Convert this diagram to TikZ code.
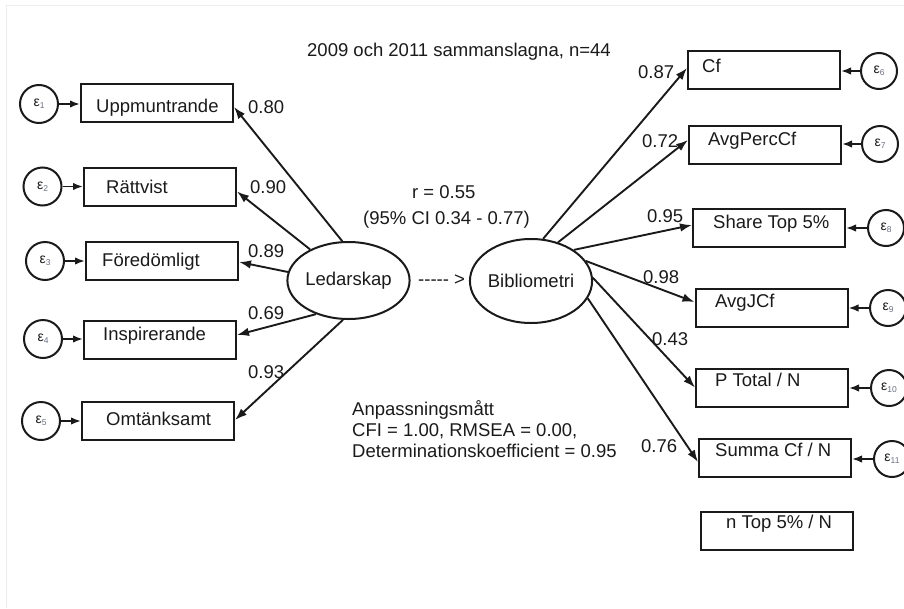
\documentclass[tikz,border=0pt]{standalone}
\usepackage{fontspec}
\setmainfont{Liberation Sans}
\usetikzlibrary{arrows.meta,shapes.geometric}
\definecolor{ink}{HTML}{1A1A1A}
\definecolor{subgray}{HTML}{6A6E80}
\definecolor{framegray}{HTML}{ECECEC}
% error-term label: epsilon with a small grey index
\newcommand\errlab[1]{{\fontsize{14}{14}\selectfont ε}{\fontsize{8.5}{8.5}\selectfont\color{subgray}\raisebox{-2pt}{#1}}}
\begin{document}
\begin{tikzpicture}[x=1pt,y=-1pt,
  every node/.style={text=ink},
  txt/.style={anchor=base west,inner sep=0pt,font=\fontsize{18.5}{21}\selectfont},
  obs/.style={draw=ink,line width=2pt,minimum width=152pt,minimum height=38pt,inner sep=0pt},
  lat/.style={ellipse,draw=ink,line width=2pt,inner sep=0pt,font=\fontsize{18.5}{21}\selectfont},
  errl/.style={circle,draw=ink,line width=2pt,inner sep=0pt,minimum size=38pt},
  errr/.style={circle,draw=ink,line width=2pt,inner sep=0pt,minimum size=36pt},
  load/.style={draw=ink,line width=1.9pt,-{Latex[length=12pt,width=8.5pt]}},
  erra/.style={draw=ink,line width=1.9pt,-{Latex[length=10pt,width=7.5pt]}}
]
\useasboundingbox (0,0) rectangle (904,608);
\draw[framegray,line width=1pt] (6,608) -- (6,5) -- (904,5);

% latent variables
\node[lat,minimum width=115pt,minimum height=77pt] (led) at (348.5,280.5) {Ledarskap};
\node[lat,minimum width=113pt,minimum height=84pt] (bib) at (531,281) {Bibliometri};

% indicators, left
\node[obs] (upp)  at (157,102.5) {};
\node[obs] (rat)  at (160,186.5) {};
\node[obs] (fore) at (162,260.5) {};
\node[obs] (insp) at (160,339.5) {};
\node[obs] (omt)  at (158,421) {};
\node[txt] (uppt)  at (96,112)  {Uppmuntrande};
\node[txt] (ratt)  at (106,193) {Rättvist};
\node[txt] (foret) at (102,266) {Föredömligt};
\node[txt] (inspt) at (103,340) {Inspirerande};
\node[txt] (omtt)  at (106,425) {Omtänksamt};

% indicators, right
\node[obs] (cf)    at (764,70) {};
\node[obs] (apc)   at (765,145) {};
\node[obs] (share) at (769,227.5) {};
\node[obs] (ajcf)  at (771.5,307.5) {};
\node[obs] (ptot)  at (772,387.5) {};
\node[obs] (summa) at (775,458) {};
\node[obs] (ntop)  at (777,531) {};
\node[txt] (cft)    at (702,72)  {Cf};
\node[txt] (apct)   at (708,145) {AvgPercCf};
\node[txt] (sharet) at (713,228) {Share Top 5\%};
\node[txt] (ajcft)  at (715,307) {AvgJCf};
\node[txt] (ptott)  at (715,386) {P Total / N};
\node[txt] (summat) at (715,456) {Summa Cf / N};
\node[txt] (ntopt)  at (726,528) {n Top 5\% / N};

% error terms
\node[errl] (e1) at (39,104)    {\errlab{1}};
\node[errl] (e2) at (42.5,186.5){\errlab{2}};
\node[errl] (e3) at (45,261)    {\errlab{3}};
\node[errl] (e4) at (43,339)    {\errlab{4}};
\node[errl] (e5) at (41,421)    {\errlab{5}};
\node[errr] (e6)  at (879,71)  {\errlab{6}};
\node[errr] (e7)  at (880,144) {\errlab{7}};
\node[errr] (e8)  at (886,228) {\errlab{8}};
\node[errr] (e9)  at (888,308) {\errlab{9}};
\node[errr] (e10) at (889,388) {\errlab{10}};
\node[errr] (e11) at (892,459) {\errlab{11}};

\draw[erra] (e1.east) -- (e1.east -| upp.west);
\draw[erra] (e2.east) -- (e2.east -| rat.west);
\draw[erra] (e3.east) -- (e3.east -| fore.west);
\draw[erra] (e4.east) -- (e4.east -| insp.west);
\draw[erra] (e5.east) -- (e5.east -| omt.west);
\draw[erra] (e6.west) -- (e6.west -| cf.east);
\draw[erra] (e7.west) -- (e7.west -| apc.east);
\draw[erra] (e8.west) -- (e8.west -| share.east);
\draw[erra] (e9.west) -- (e9.west -| ajcf.east);
\draw[erra] (e10.west) -- (e10.west -| ptot.east);
\draw[erra] (e11.west) -- (e11.west -| summa.east);

% loadings
\draw[load] (led.99)    -- ([yshift=-4.5pt]upp.east);
\draw[load] (led.141.7) -- ([yshift=-5pt]rat.east);
\draw[load] (led.172)   -- ([yshift=-1.5pt]fore.east);
\draw[load] (led.226)   -- ([yshift=4.5pt]insp.east);
\draw[load] (led.262.5) -- ([yshift=1pt]omt.east);
\draw[load] (bib.74)    -- ([yshift=2pt]cf.west);
\draw[load] (bib.55.6)  -- ([yshift=5pt]apc.west);
\draw[load] (bib.36)    -- ([yshift=2.5pt]share.west);
\draw[load] (bib.20)    -- ([yshift=5.5pt]ajcf.west);
\draw[load] (bib.3)     -- (ptot.west);
\draw[load] (bib.-17)   -- ([yshift=-4pt]summa.west);

\node[txt] (l1) at (248,113) {0.80};
\node[txt] (l2) at (250,193) {0.90};
\node[txt] (l3) at (248,257) {0.89};
\node[txt] (l4) at (248,319) {0.69};
\node[txt] (l5) at (248,378) {0.93};
\node[txt] (l6)  at (638,78)  {0.87};
\node[txt] (l7)  at (642,147) {0.72};
\node[txt] (l8)  at (647,222) {0.95};
\node[txt] (l9)  at (643,283) {0.98};
\node[txt] (l10) at (652,345) {0.43};
\node[txt] (l11) at (641,452) {0.76};

% annotations
\node[txt] (title) at (307,56) {2009 och 2011 sammanslagna, n=44};
\node[txt] (corr)  at (412,198) {r = 0.55};
\node[txt] (ci)    at (363,224) {(95\% CI 0.34 - 0.77)};
\node[txt] (link)  at (418,285) {-{}-{}-{}-{}- >};
\node[txt,align=left] (fit) at (352,457) {Anpassningsmått\\CFI = 1.00, RMSEA = 0.00,\\Determinationskoefficient = 0.95};
\end{tikzpicture}
\end{document}
